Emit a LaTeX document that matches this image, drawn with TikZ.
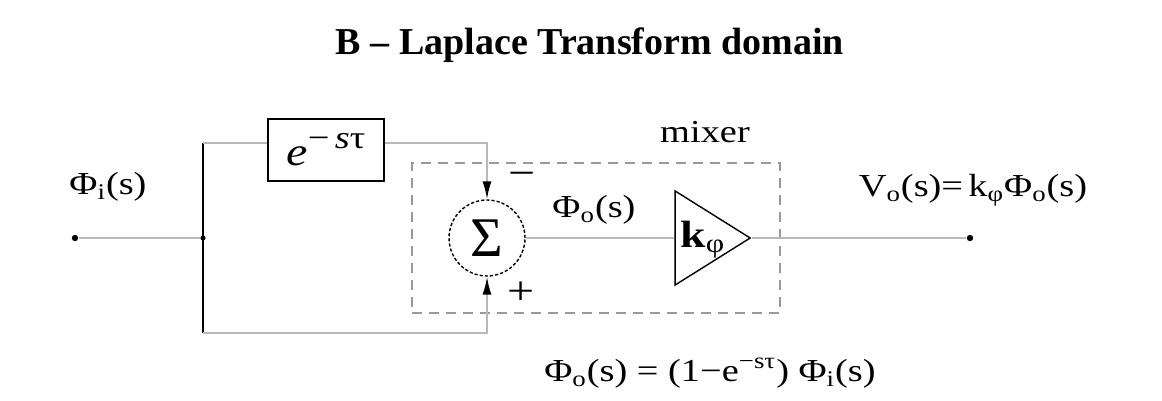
\documentclass[tikz,border=0pt]{standalone}
\usepackage{fontspec}
\setmainfont{Liberation Serif}
\newfontfamily\widefont[FakeStretch=1.2]{Liberation Serif}
\usetikzlibrary{positioning,arrows.meta,calc,shapes.geometric}

\begin{document}
\begin{tikzpicture}[
  x=0.5pt, y=-0.5pt,
  wire/.style={draw=gray!55, line width=0.9pt},
  feed/.style={wire, -{Latex[length=9pt,width=4.5pt,color=black]}},
  trunk/.style={draw=black, line width=1.2pt},
  delaybox/.style={draw, line width=1.3pt, minimum width=58pt, minimum height=31pt, inner sep=0pt, font=\fontsize{20}{22}\widefont},
  sumnode/.style={draw, circle, dash pattern=on 1.6pt off 1pt, line width=0.7pt, minimum size=38pt, inner sep=0pt, font=\fontsize{28}{30}\selectfont},
  ampnode/.style={draw, isosceles triangle, isosceles triangle stretches, shape border rotate=0, minimum width=47pt, minimum height=37.5pt, inner sep=1pt, line width=0.7pt},
  mixerbox/.style={draw=gray!80, dashed, dash pattern=on 5pt off 3.5pt, line width=0.9pt, minimum width=184pt, minimum height=75pt},
  pin/.style={circle, fill=black, inner sep=0pt, minimum size=3.2pt},
  lbl/.style={font=\fontsize{16}{18}\widefont, inner sep=0pt},
  every node/.style={font=\fontsize{16}{18}\widefont}
]
\useasboundingbox (0,0) rectangle (1162,401);

% title
\node[font=\fontsize{19}{21}\selectfont\bfseries] (title) at (590,45) {B – Laplace Transform domain};

% blocks
\node[mixerbox] (mixer) at (596,238) {};
\node[delaybox] (delay) at (326,150) {\textit{e}\raisebox{0.42em}{\fontsize{16}{16}\widefont−\,\textit{s}τ}};
\node[sumnode] (sum) at (487,238) {Σ};
\node[ampnode, anchor=apex] (amp) at (752,238) {};
\node[anchor=west, inner sep=0pt, font=\fontsize{19}{21}\widefont] (gain) at (680,240) {\textbf{k}\textsubscript{φ}};

% terminals and branch points
\node[pin] (in) at (75,238) {};
\node[pin] (out) at (970,238) {};
\node[pin, minimum size=2.6pt] (split) at (203,238) {};
\coordinate (top) at (203,143);
\coordinate (bot) at (203,333);

% connectors
\draw[wire] (in) -- (split);
\draw[trunk] (top) -- (bot);
\draw[wire] (top) -- (delay.west |- top);
\draw[feed] (delay.east |- top) -| (sum.north);
\draw[feed] (bot) -| (sum.south);
\draw[wire] (sum) -- (amp);
\draw[wire] (amp.apex) -- (out);

% labels
\node[lbl] (phiin) at (108,187) {Φ\textsubscript{i}(s)};
\node[lbl, font=\fontsize{20}{22}\widefont] (minus) at (522,179) {−};
\node[lbl, font=\fontsize{20}{22}\widefont] (plus) at (521,293) {+};
\node[lbl] (phiout) at (594,210) {Φ\textsubscript{o}(s)};
\node[lbl] (mixlbl) at (705,132) {mixer};
\node[lbl] (vout) at (973,190) {V\textsubscript{o}(s)=\,k\textsubscript{φ}Φ\textsubscript{o}(s)};
\node[lbl] (eqn) at (710,373) {Φ\textsubscript{o}(s) = (1−e\textsuperscript{−sτ}) Φ\textsubscript{i}(s)};
\end{tikzpicture}
\end{document}
